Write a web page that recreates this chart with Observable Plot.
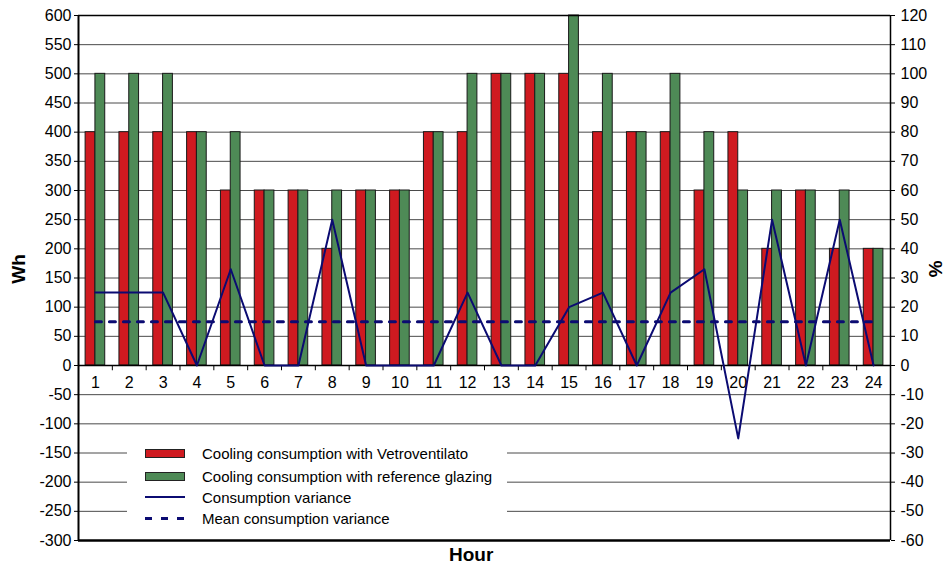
<!DOCTYPE html>
<html>
<head>
<meta charset="utf-8">
<script src="https://cdn.jsdelivr.net/npm/d3@7"></script>
<script src="https://cdn.jsdelivr.net/npm/@observablehq/plot@0.6"></script>
<style>
  body { margin: 0; background: #fff; font-family: "Liberation Sans", Arial, sans-serif; }
  #wrap { position: relative; width: 947px; height: 569px; }
  .ttl { position: absolute; font-weight: bold; font-size: 19px; color: #000; }
  #legend { position: absolute; left: 127px; top: 431px; width: 380px; height: 105px; background: #fff; font-size: 15px; }
  .row { position: absolute; left: 0; height: 20px; display: flex; align-items: center; white-space: nowrap; }
  .sw { width: 40px; margin-left: 18px; margin-right: 17px; box-sizing: border-box; }
</style>
</head>
<body>
<div id="wrap"></div>
<script>
const hours = [1,2,3,4,5,6,7,8,9,10,11,12,13,14,15,16,17,18,19,20,21,22,23,24];
const vetro = [400,400,400,400,300,300,300,200,300,300,400,400,500,500,500,400,400,400,300,400,200,300,200,200];
const reference = [500,500,500,400,400,300,300,300,300,300,400,500,500,500,600,500,400,500,400,300,300,300,300,200];
const variancePct = [25,25,25,0,33,0,0,50,0,0,0,25,0,0,20,25,0,25,33,-25,50,0,50,0];
const meanVariancePct = 15;
const whTicks = [-300,-250,-200,-150,-100,-50,0,50,100,150,200,250,300,350,400,450,500,550,600];
const pctTicks = [-60,-50,-40,-30,-20,-10,0,10,20,30,40,50,60,70,80,90,100,110,120];
const seriesNames = ["Cooling consumption with Vetroventilato","Cooling consumption with reference glazing","Consumption variance","Mean consumption variance"];

const red = "#cf1a20", green = "#4e8a56", navy = "#0b0b72";
const pctToWh = 600 / 120; // right axis mapping
const rows = hours.map((h, i) => ({hour: h, vetro: vetro[i], ref: reference[i], pct: variancePct[i]}));
const boundaries = hours.slice(0, -1).map(h => h + 0.5);
const pctLabel = new Map(whTicks.map((w, i) => [w, pctTicks[i]]));

const chart = Plot.plot({
  width: 947, height: 569,
  marginLeft: 78, marginRight: 57, marginTop: 15, marginBottom: 29,
  x: {type: "linear", domain: [0.5, 24.5], axis: null},
  y: {domain: [-300, 600], axis: null},
  style: {fontFamily: "'Liberation Sans', Arial, sans-serif", background: "#fff"},
  marks: [
    Plot.gridY(whTicks, {stroke: "#4a4a4a", strokeOpacity: 1, strokeWidth: 1}),
    Plot.rectY(rows, {x1: d => d.hour - 0.29, x2: d => d.hour, y1: 0, y2: "vetro", fill: red, stroke: "#1a1a1a", strokeWidth: 1}),
    Plot.rectY(rows, {x1: d => d.hour, x2: d => d.hour + 0.29, y1: 0, y2: "ref", fill: green, stroke: "#1a1a1a", strokeWidth: 1}),
    Plot.ruleY([0], {stroke: "#000", strokeWidth: 1.5}),
    Plot.ruleY([-300], {stroke: "#000", strokeWidth: 2.5}),
    Plot.ruleX([0.5], {stroke: "#000", strokeWidth: 2}),
    Plot.ruleX([24.5], {stroke: "#000", strokeWidth: 1.5}),
    Plot.ruleY([600], {stroke: "#000", strokeWidth: 1.5}),
    Plot.ruleX(boundaries, {y1: 0, y2: -9, stroke: "#000", strokeWidth: 1}),
    Plot.text(hours, {x: d => d, y: 0, dy: 17, text: d => String(d), fontSize: 16, fill: "#000"}),
    Plot.lineY(rows, {x: "hour", y: d => d.pct * pctToWh, stroke: navy, strokeWidth: 2}),
    Plot.lineY([hours[0], hours[hours.length - 1]], {x: d => d, y: () => meanVariancePct * pctToWh, stroke: navy, strokeWidth: 3, strokeDasharray: "6,8"}),
    Plot.axisY(whTicks, {anchor: "left", tickSize: 4, tickPadding: 3, fontSize: 16, label: null, tickFormat: d => String(d), stroke: "#000"}),
    Plot.axisY(whTicks, {anchor: "right", tickSize: 4, tickPadding: 6, fontSize: 16, label: null, tickFormat: d => String(pctLabel.get(d)), stroke: "#000"})
  ]
});

const wrap = document.getElementById("wrap");
wrap.appendChild(chart);

function addTitle(text, style) {
  const el = document.createElement("div");
  el.className = "ttl";
  el.textContent = text;
  Object.assign(el.style, style);
  wrap.appendChild(el);
}
addTitle("Wh", {left: "4px", top: "258px", transform: "rotate(-90deg)", transformOrigin: "center"});
addTitle("%", {left: "927px", top: "258px", transform: "rotate(90deg)", transformOrigin: "center"});
addTitle("Hour", {left: "449px", top: "544px"});

const legend = document.createElement("div");
legend.id = "legend";
const swatches = [
  `<div class="sw" style="height:9px;background:${red};border:1px solid #222"></div>`,
  `<div class="sw" style="height:9px;background:${green};border:1px solid #222"></div>`,
  `<div class="sw" style="height:0;border-top:2.5px solid ${navy}"></div>`,
  `<div class="sw" style="height:3px;background:repeating-linear-gradient(90deg, ${navy} 0 7px, transparent 7px 16px)"></div>`
];
const tops = [12, 35, 56, 77];
seriesNames.forEach((name, i) => {
  const r = document.createElement("div");
  r.className = "row";
  r.style.top = tops[i] + "px";
  r.innerHTML = swatches[i] + `<span>${name}</span>`;
  legend.appendChild(r);
});
wrap.appendChild(legend);
</script>
</body>
</html>
